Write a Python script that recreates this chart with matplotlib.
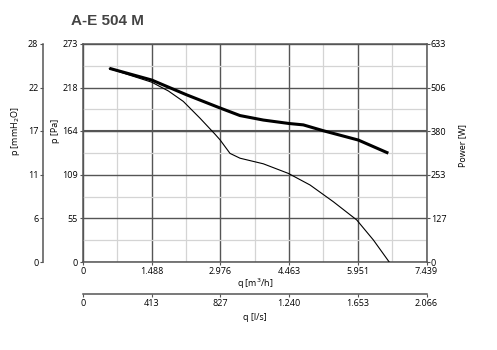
import matplotlib
matplotlib.use('Agg')
import matplotlib.pyplot as plt
import numpy as np

plt.rcParams['font.family'] = ['Open Sans', 'DejaVu Sans']

# flow in m3/h, pressure in Pa (thin curve)
q_press = [570, 1000, 1488, 1850, 2172, 2534, 2859, 2967, 3184, 3400, 3905, 4447, 4917, 5421, 5928, 6288, 6634]
p_pa = [242, 234, 225, 214, 201, 180, 160, 153, 136, 130, 123, 111, 96.5, 75.6, 52.8, 27.8, 0]

# flow in m3/h, power in W (thick curve)
q_power = [570, 1488, 2246, 2967, 3184, 3400, 3905, 4462, 4771, 5205, 5963, 6613]
power_w = [562, 528, 485, 447, 436, 425, 412, 402, 398, 381, 354, 316]

q_ticks = [0, 1488, 2976, 4463, 5951, 7439]
q_labels = ['0', '1.488', '2.976', '4.463', '5.951', '7.439']
ls_labels = ['0', '413', '827', '1.240', '1.653', '2.066']
pa_ticks = [0, 55, 109, 164, 218, 273]
mm_labels = ['0', '6', '11', '17', '22', '28']
w_ticks = [0, 127, 253, 380, 506, 633]

W, H = 497, 350
fig = plt.figure(figsize=(W / 100, H / 100), dpi=100)
ax = fig.add_axes([83 / W, 1 - 262.2 / H, 343.5 / W, 218.4 / H])

dark = '#555555'
light = '#d4d4d4'
fs = 6.5

ax.set_xlim(0, 7439)
ax.set_ylim(0, 273)
ax.set_xticks(q_ticks)
ax.set_xticklabels(q_labels)
ax.set_yticks(pa_ticks)
ax.set_yticklabels([str(v) for v in pa_ticks])
ax.set_xticks([(a + b) / 2 for a, b in zip(q_ticks[:-1], q_ticks[1:])], minor=True)
ax.set_yticks([(a + b) / 2 for a, b in zip(pa_ticks[:-1], pa_ticks[1:])], minor=True)
ax.grid(which='minor', color=light, lw=0.9)
ax.grid(which='major', color=dark, lw=1.0)
ax.axhline(164, color=dark, lw=1.5, zorder=1)
ax.set_axisbelow(True)
ax.tick_params(which='major', direction='out', length=2, width=0.8, color=dark,
               labelsize=fs, pad=1.5)
ax.tick_params(which='minor', length=0)
for s in ax.spines.values():
    s.set_color(dark)
    s.set_linewidth(1.1)

ax.plot(q_press, p_pa, color='black', lw=0.8, zorder=3)

# power axis on the right
axp = ax.twinx()
axp.set_ylim(0, 633)
axp.set_yticks(w_ticks)
axp.set_yticklabels([str(v) for v in w_ticks])
axp.tick_params(direction='out', length=2, width=0.8, color=dark, labelsize=fs, pad=1)
for s in axp.spines.values():
    s.set_visible(False)
axp.plot(q_power, power_w, color='black', lw=2.2, zorder=3, solid_capstyle='butt')

# mmH2O axis on the far left
axm = ax.twinx()
axm.set_ylim(0, 273)
axm.spines['left'].set_position(('outward', 28.6))
axm.spines['left'].set_visible(True)
axm.spines['left'].set_color(dark)
axm.spines['left'].set_linewidth(1.1)
for k in ['right', 'top', 'bottom']:
    axm.spines[k].set_visible(False)
axm.yaxis.set_ticks_position('left')
axm.yaxis.set_label_position('left')
axm.set_yticks(pa_ticks)
axm.set_yticklabels(mm_labels)
axm.tick_params(direction='out', length=2, width=0.8, color=dark, labelsize=fs, pad=1.5)

# l/s axis below
axl = ax.twiny()
axl.set_xlim(0, 7439)
axl.spines['bottom'].set_position(('outward', 22.9))
axl.spines['bottom'].set_visible(True)
axl.spines['bottom'].set_color(dark)
axl.spines['bottom'].set_linewidth(1.1)
for k in ['left', 'right', 'top']:
    axl.spines[k].set_visible(False)
axl.xaxis.set_ticks_position('bottom')
axl.set_xticks(q_ticks)
axl.set_xticklabels(ls_labels)
axl.tick_params(direction='out', length=2, width=0.8, color=dark, labelsize=fs, pad=1.5)

fig.text(15 / W, 1 - 131 / H, 'p [mmH$_2$O]', rotation=90, ha='center', va='center', fontsize=fs)
fig.text(55 / W, 1 - 131 / H, 'p [Pa]', rotation=90, ha='center', va='center', fontsize=fs)
fig.text(463 / W, 1 - 145 / H, 'Power [W]', rotation=90, ha='center', va='center', fontsize=fs)
fig.text(255 / W, 1 - 284 / H, 'q [m$^3$/h]', ha='center', va='center', fontsize=fs)
fig.text(255 / W, 1 - 317 / H, 'q [l/s]', ha='center', va='center', fontsize=fs)
fig.text(107 / W, 1 - 21 / H, 'A-E 504 M', ha='center', va='center', fontsize=11,
         fontweight='bold', color='#444444', family=['Liberation Sans', 'DejaVu Sans'])

fig.savefig('out.png', dpi=100)
